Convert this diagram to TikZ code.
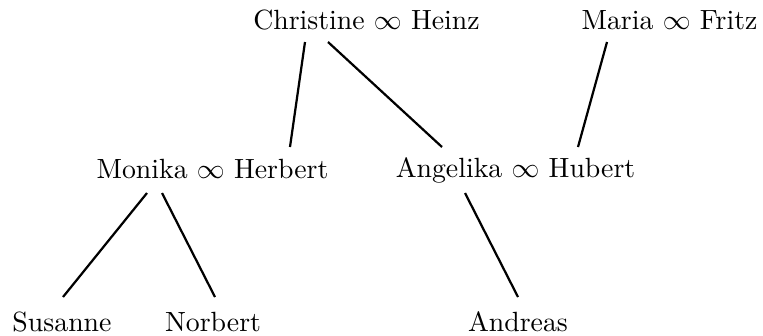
\documentclass[tikz,border=0pt]{standalone}
\begin{document}
\begin{tikzpicture}[x=0.3597pt,y=-0.3597pt,
  person/.style={anchor=base,inner sep=0pt,font=\fontsize{10}{12}\selectfont},
  link/.style={line width=0.8pt}]
\useasboundingbox (0,0) rectangle (763,335);
\node[person] (ch) at (366.5,29) {Christine $\infty$ Heinz};
\node[person] (mf) at (669.5,29) {Maria $\infty$ Fritz};
\node[person] (mh) at (212.5,178) {Monika $\infty$ Herbert};
\node[person] (ah) at (515.5,177.5) {Angelika $\infty$ Hubert};
\node[person] (su) at (62,331) {Susanne};
\node[person] (no) at (213,331) {Norbert};
\node[person] (an) at (518,331) {Andreas};
\coordinate (ch1) at (305,42);
\coordinate (ch2) at (328,42);
\coordinate (mf1) at (607,42);
\coordinate (mh0) at (290,147);
\coordinate (ah0) at (442,147);
\coordinate (ah1) at (578,147);
\coordinate (mh1) at (147,193);
\coordinate (mh2) at (162,193);
\coordinate (ah2) at (465,193);
\coordinate (su0) at (63,297);
\coordinate (no0) at (215,297);
\coordinate (an0) at (518,297);
\draw[link] (ch1) -- (mh0);
\draw[link] (ch2) -- (ah0);
\draw[link] (mf1) -- (ah1);
\draw[link] (mh1) -- (su0);
\draw[link] (mh2) -- (no0);
\draw[link] (ah2) -- (an0);
\end{tikzpicture}
\end{document}
